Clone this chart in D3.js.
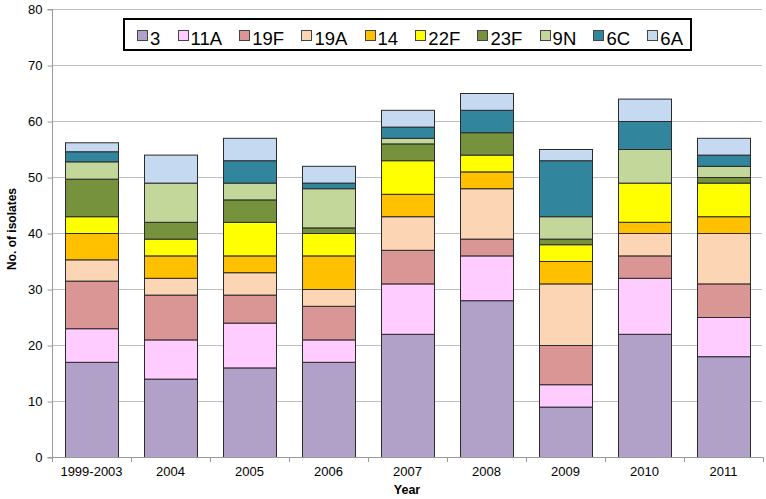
<!DOCTYPE html>
<html><head><meta charset="utf-8">
<script src="https://cdn.jsdelivr.net/npm/d3@7"></script>
<style>body{margin:0;background:#fff}svg{display:block;font-family:"Liberation Sans",Arial,sans-serif}</style>
</head><body><svg id="c" width="766" height="499"></svg>
<script>
const years = ["1999-2003","2004","2005","2006","2007","2008","2009","2010","2011"];
const serotypes = ["3","11A","19F","19A","14","22F","23F","9N","6C","6A"];
const colors = ["#B1A0C7","#FFCCFF","#DA9694","#FCD5B4","#FFC000","#FFFF00","#76923C","#C4D79B","#31859C","#C5D9F1"];
const s3   = [17,14,16,17,22,28,9,22,18];
const s11A = [6,7,8,4,9,8,4,10,7];
const s19F = [8.5,8,5,6,6,3,7,4,6];
const s19A = [3.8,3,4,3,6,9,11,4,9];
const s14  = [4.7,4,3,6,4,3,4,2,3];
const s22F = [3,3,6,4,6,3,3,7,6];
const s23F = [6.7,3,4,1,3,4,1,0,1];
const s9N  = [3.1,7,3,7,1,0,4,6,2];
const s6C  = [1.8,0,4,1,2,4,10,5,2];
const s6A  = [1.6,5,4,3,3,3,2,4,3];
const yTicks = [0,10,20,30,40,50,60,70,80];

const FONT = "'Liberation Sans',Arial,sans-serif";
const seriesVals = [s3,s11A,s19F,s19A,s14,s22F,s23F,s9N,s6C,s6A];
const table = years.map((y,i)=>{const o={year:y}; serotypes.forEach((s,j)=>o[s]=seriesVals[j][i]); return o;});
const stack = d3.stack().keys(serotypes)(table);

const svg = d3.select("#c");
const L=52, R=763, T=9, B=457;
const x = d3.scaleBand().domain(years).range([L,R]).paddingInner(0.33).paddingOuter(0.165);
const y = d3.scaleLinear().domain([0,80]).range([B,T]);

svg.append("g").selectAll("line").data(yTicks.filter(d=>d>0)).join("line")
  .attr("x1",L).attr("x2",R-1).attr("y1",d=>y(d)+0.5).attr("y2",d=>y(d)+0.5)
  .attr("stroke","#BDBDBD").attr("stroke-width",1);

const g = svg.append("g");
stack.forEach((layer,j)=>{
  g.append("g").selectAll("rect").data(layer.filter(d=>d[1]-d[0]>0)).join("rect")
    .attr("x",d=>Math.round(x(d.data.year))+0.5)
    .attr("width",Math.round(x.bandwidth()))
    .attr("y",d=>y(d[1])+0.5)
    .attr("height",d=>y(d[0])-y(d[1]))
    .attr("fill",colors[j]).attr("stroke","#2b2b2b").attr("stroke-width",1);
});

const ya = svg.append("g").attr("transform",`translate(${L+0.5},0)`)
  .call(d3.axisLeft(y).tickValues(yTicks).tickSize(5).tickPadding(5));
ya.select(".domain").attr("stroke","#9A9A9A").attr("d",`M-5,${y(80)+0.5}H0V${B+0.5}H-5`);
ya.selectAll(".tick line").attr("stroke","#9A9A9A").attr("transform","translate(0,0.5)");
ya.selectAll("text").attr("font-size",13).attr("fill","#000").attr("font-family",FONT);

svg.append("line").attr("x1",L).attr("x2",R).attr("y1",B+0.5).attr("y2",B+0.5).attr("stroke","#9A9A9A");
svg.append("g").selectAll("line").data(d3.range(years.length+1)).join("line")
  .attr("x1",i=>L+i*(R-L)/years.length+0.5).attr("x2",i=>L+i*(R-L)/years.length+0.5)
  .attr("y1",B).attr("y2",B+5).attr("stroke","#9A9A9A");
svg.append("g").selectAll("text").data(years).join("text")
  .attr("x",d=>x(d)+x.bandwidth()/2).attr("y",476).attr("text-anchor","middle")
  .attr("font-size",13).text(d=>d);

svg.append("text").attr("x",407).attr("y",494).attr("text-anchor","middle")
  .attr("font-size",12.5).attr("font-weight","bold").text("Year");
svg.append("text").attr("transform","translate(16,229) rotate(-90)").attr("text-anchor","middle")
  .attr("font-size",12).attr("font-weight","bold").text("No. of isolates");

// legend
const lg = svg.append("g");
lg.append("rect").attr("x",124).attr("y",19).attr("width",567).attr("height",31)
  .attr("fill","#fff").attr("stroke","#000").attr("stroke-width",2);
const items = serotypes.map((s,j)=>{
  const sw = lg.append("rect").attr("y",30.5).attr("width",10).attr("height",10)
    .attr("fill",colors[j]).attr("stroke","#444").attr("stroke-width",1);
  const tx = lg.append("text").attr("y",45).attr("font-size",18.5).text(s);
  return {sw,tx,w:tx.node().getComputedTextLength()};
});
const startX = 137, endX = 683, swGap = 13;
const totalW = d3.sum(items,d=>d.w) + items.length*swGap;
const gap = (endX-startX-totalW)/(items.length-1);
let cx = startX;
items.forEach(it=>{
  it.sw.attr("x",Math.round(cx)+0.5);
  it.tx.attr("x",cx+swGap);
  cx += swGap + it.w + gap;
});
</script></body></html>
